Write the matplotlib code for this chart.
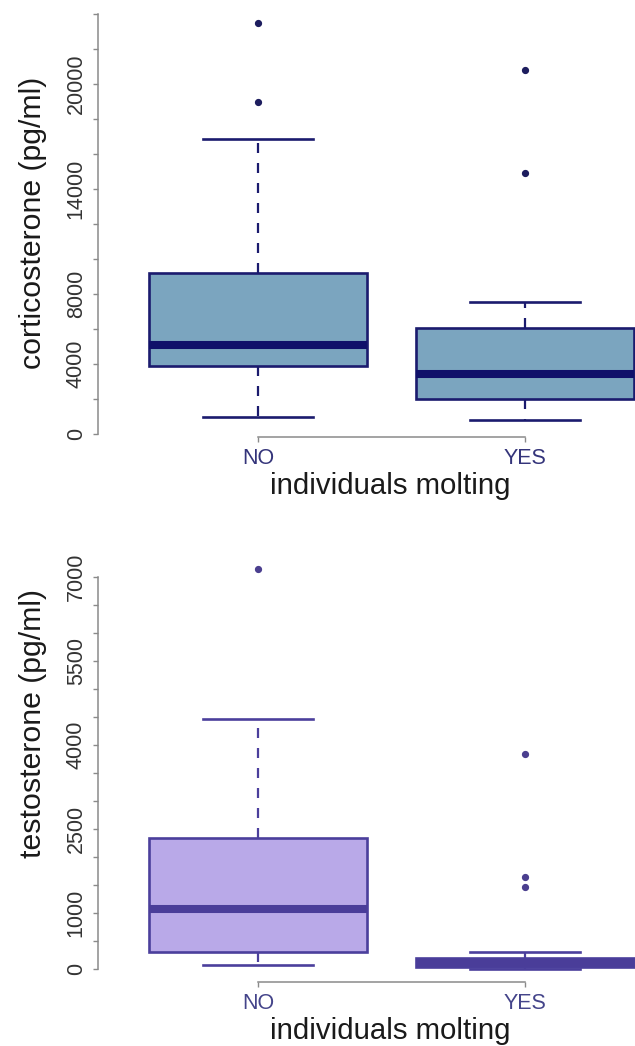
import matplotlib
matplotlib.use("Agg")
import matplotlib.pyplot as plt

plt.rcParams["font.family"] = ["Liberation Sans", "DejaVu Sans"]

W, H = 635, 1046
DPI = 100

groups = ["NO", "YES"]

# corticosterone (pg/ml) per molting group
cort_q1 = [3890, 1980]
cort_med = [5090, 3410]
cort_q3 = [9220, 6080]
cort_lo = [990, 800]
cort_hi = [16860, 7560]
cort_out = [[18970, 23490], [14900, 20800]]
cort_ticks = list(range(0, 24001, 2000))
cort_labels = {0: "0", 4000: "4000", 8000: "8000", 14000: "14000", 20000: "20000"}

# testosterone (pg/ml) per molting group
test_q1 = [300, 40]
test_med = [1080, 110]
test_q3 = [2345, 200]
test_lo = [77, 10]
test_hi = [4470, 300]
test_out = [[7150], [1464, 1654, 3845]]
test_ticks = list(range(0, 7001, 500))
test_labels = {0: "0", 1000: "1000", 2500: "2500", 4000: "4000", 5500: "5500", 7000: "7000"}


def px_x(x):
    return x / W


def px_y(y):
    return 1 - y / H


fig = plt.figure(figsize=(W / DPI, H / DPI), dpi=DPI)

AX_LEFT_PX = 98
AX_RIGHT_PX = 680.4
XLIM = (0.4007, 2.582)


def panel(top_px, bottom_px, ylim, q1, med, q3, lo, hi, out, ticks, labels,
          fill, edge, med_color, flier_color, tick_color, ylabel,
          ylabel_xy, xlabel_y):
    ax = fig.add_axes([px_x(AX_LEFT_PX), px_y(bottom_px),
                       (AX_RIGHT_PX - AX_LEFT_PX) / W, (bottom_px - top_px) / H])
    stats = []
    for i, name in enumerate(groups):
        stats.append(dict(label=name, q1=q1[i], med=med[i], q3=q3[i],
                          whislo=lo[i], whishi=hi[i], fliers=out[i]))
    lw_box = 1.9
    ax.bxp(stats, positions=[1, 2], widths=0.82, capwidths=0.41,
           patch_artist=True, showfliers=True,
           boxprops=dict(facecolor=fill, edgecolor=edge, linewidth=lw_box),
           medianprops=dict(color=med_color, linewidth=5.8, solid_capstyle="butt"),
           whiskerprops=dict(color=edge, linewidth=1.6, linestyle=(0, (4.5, 4.5))),
           capprops=dict(color=edge, linewidth=1.9),
           flierprops=dict(marker="o", markersize=4.2, markerfacecolor=flier_color,
                           markeredgecolor=flier_color))
    ax.set_xlim(*XLIM)
    ax.set_ylim(*ylim)
    for s in ("top", "right"):
        ax.spines[s].set_visible(False)
    for s in ("left", "bottom"):
        ax.spines[s].set_color("#8a8a8a")
        ax.spines[s].set_linewidth(1.1)
    ax.spines["left"].set_bounds(ticks[0], ticks[-1])
    ax.spines["bottom"].set_bounds(1, 2)
    ax.set_yticks(ticks)
    ax.set_yticklabels([labels.get(t, "") for t in ticks], rotation=90,
                       va="center", fontsize=15.5, color="#333333")
    ax.set_xticks([1, 2])
    ax.set_xticklabels(groups, fontsize=15.5, color=tick_color)
    ax.tick_params(axis="y", length=3.6, width=1.0, color="#8a8a8a", pad=4.5)
    ax.tick_params(axis="x", length=3.6, width=1.0, color="#8a8a8a", pad=4.5)
    ax.patch.set_alpha(0)
    fig.text(px_x(ylabel_xy[0]), px_y(ylabel_xy[1]), ylabel, rotation=90,
             ha="center", va="center", fontsize=21.8, color="#1a1a1a")
    fig.text(px_x(390), px_y(xlabel_y), "individuals molting", ha="center",
             va="baseline", fontsize=21.2, color="#1a1a1a")
    return ax


panel(5, 437, (-171, 24514), cort_q1, cort_med, cort_q3, cort_lo, cort_hi, cort_out,
      cort_ticks, cort_labels, fill="#7ba5bf", edge="#1b1b6e", med_color="#10106a",
      flier_color="#1d1d5e", tick_color="#34347a",
      ylabel="corticosterone (pg/ml)", ylabel_xy=(33, 223), xlabel_y=494)

panel(560, 982, (-227, 7309), test_q1, test_med, test_q3, test_lo, test_hi, test_out,
      test_ticks, test_labels, fill="#b9a9e8", edge="#4b3f9c", med_color="#4a3d99",
      flier_color="#4b3f8f", tick_color="#44448a",
      ylabel="testosterone (pg/ml)", ylabel_xy=(33, 724), xlabel_y=1039)

fig.savefig("out.png", dpi=DPI)
